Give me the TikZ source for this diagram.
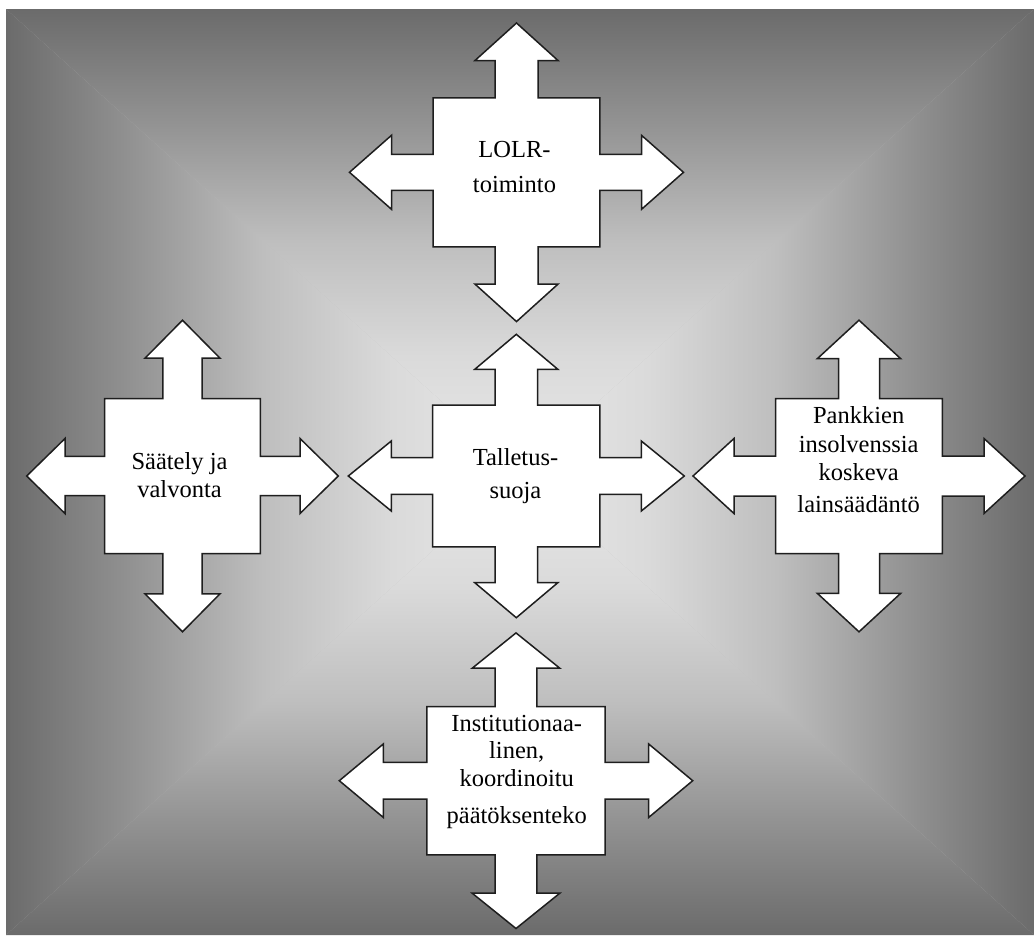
\documentclass[tikz,border=0pt]{standalone}
\usepackage{fontspec}
\setmainfont{Liberation Serif}
\definecolor{gA}{RGB}{107,107,107}
\definecolor{gB}{RGB}{147,147,147}
\definecolor{gC}{RGB}{190,190,190}
\definecolor{gD}{RGB}{218,218,218}
\definecolor{gE}{RGB}{232,232,232}
\definecolor{outline}{RGB}{30,30,30}
\pgfdeclareverticalshading{bgT}{100bp}{color(0bp)=(gE); color(25bp)=(gE); color(37.5bp)=(gD); color(50bp)=(gC); color(62.5bp)=(gB); color(75bp)=(gA); color(100bp)=(gA)}
\pgfdeclareverticalshading{bgB}{100bp}{color(0bp)=(gA); color(25bp)=(gA); color(37.5bp)=(gB); color(50bp)=(gC); color(62.5bp)=(gD); color(75bp)=(gE); color(100bp)=(gE)}
\pgfdeclarehorizontalshading{bgL}{100bp}{color(0bp)=(gA); color(25bp)=(gA); color(37.5bp)=(gB); color(50bp)=(gC); color(62.5bp)=(gD); color(75bp)=(gE); color(100bp)=(gE)}
\pgfdeclarehorizontalshading{bgR}{100bp}{color(0bp)=(gE); color(25bp)=(gE); color(37.5bp)=(gD); color(50bp)=(gC); color(62.5bp)=(gB); color(75bp)=(gA); color(100bp)=(gA)}
\pgfqkeys{/qa}{bw/.store in=\qbw, bh/.store in=\qbh, ex/.store in=\qex, ey/.store in=\qey,
  vs/.store in=\qvs, vh/.store in=\qvh, vl/.store in=\qvl, hs/.store in=\qhs, hh/.store in=\qhh, hl/.store in=\qhl}
\newcommand\quadarrow[2]{%
  \begin{scope}
  \pgfqkeys{/qa}{#2}%
  \pgfmathsetmacro\qa{\qey-\qvl}%
  \pgfmathsetmacro\qb{\qex-\qhl}%
  \draw[qaline,shift={#1}] (0,-\qey) -- (\qvh,-\qa) -- (\qvs,-\qa) -- (\qvs,-\qbh) -- (\qbw,-\qbh) -- (\qbw,-\qhs) -- (\qb,-\qhs) -- (\qb,-\qhh) -- (\qex,0) -- (\qb,\qhh) -- (\qb,\qhs) -- (\qbw,\qhs) -- (\qbw,\qbh) -- (\qvs,\qbh) -- (\qvs,\qa) -- (\qvh,\qa) -- (0,\qey) -- (-\qvh,\qa) -- (-\qvs,\qa) -- (-\qvs,\qbh) -- (-\qbw,\qbh) -- (-\qbw,\qhs) -- (-\qb,\qhs) -- (-\qb,\qhh) -- (-\qex,0) -- (-\qb,-\qhh) -- (-\qb,-\qhs) -- (-\qbw,-\qhs) -- (-\qbw,-\qbh) -- (-\qvs,-\qbh) -- (-\qvs,-\qa) -- (-\qvh,-\qa) -- cycle;
  \end{scope}}
\tikzset{
  qaline/.style={draw=outline, fill=white, line width=1.5pt, line join=miter},
  lbl/.style={anchor=north, inner sep=0pt, align=center, text=black}
}
\begin{document}
\begin{tikzpicture}[x=1pt,y=-1pt]
\useasboundingbox (0,0) rectangle (1034,935);
% background
\fill[gC] (6,9) rectangle (1034,935);
\shade[shading=bgT] (6,9) -- (1034,9) -- (520,472) -- cycle;
\shade[shading=bgB] (6,935) -- (1034,935) -- (520,472) -- cycle;
\shade[shading=bgL] (6,9) -- (6,935) -- (520,472) -- cycle;
\shade[shading=bgR] (1034,9) -- (1034,935) -- (520,472) -- cycle;
% quad arrows
\quadarrow{(516.5,172.3)}{bw=83.3, bh=74.5, ex=167, ey=149.3, vs=21.5, vh=41.5, vl=37.5, hs=18, hh=37, hl=42}
\quadarrow{(516.3,476)}{bw=83.6, bh=70.8, ex=168, ey=141.7, vs=21.3, vh=41.5, vl=35, hs=18.3, hh=35, hl=43}
\quadarrow{(182.5,476)}{bw=77.8, bh=77.5, ex=155.8, ey=155.8, vs=19.7, vh=37.5, vl=38, hs=19.7, hh=37.5, hl=38.3}
\quadarrow{(859,476)}{bw=83.3, bh=77.5, ex=166, ey=155.8, vs=20.5, vh=41.7, vl=38.5, hs=20, hh=37.5, hl=41}
\quadarrow{(516,780.7)}{bw=89.2, bh=74.2, ex=176.7, ey=147.8, vs=20.8, vh=43.8, vl=35.3, hs=18.3, hh=36.7, hl=44}
% labels
\node[lbl, font={\fontsize{24.5}{35}\selectfont}] (lolr) at (514.5,140.8) {LOLR-\\toiminto};
\node[lbl, font={\fontsize{24.5}{33}\selectfont}] (talletus) at (515.5,448.3) {Talletus-\\suoja};
\node[lbl, font={\fontsize{24.5}{28}\selectfont}] (saately) at (179.5,452.3) {Säätely ja\\valvonta};
\node[lbl, font={\fontsize{24.5}{28.3}\selectfont}] (pankkien) at (858.7,406.6) {Pankkien\\insolvenssia\\koskeva\\[3.4pt]lainsäädäntö};
\node[lbl, font={\fontsize{24.5}{27.5}\selectfont}] (inst) at (516.7,715) {Institutionaa-\\linen,\\koordinoitu\\[9.5pt]päätöksenteko};
\end{tikzpicture}
\end{document}
